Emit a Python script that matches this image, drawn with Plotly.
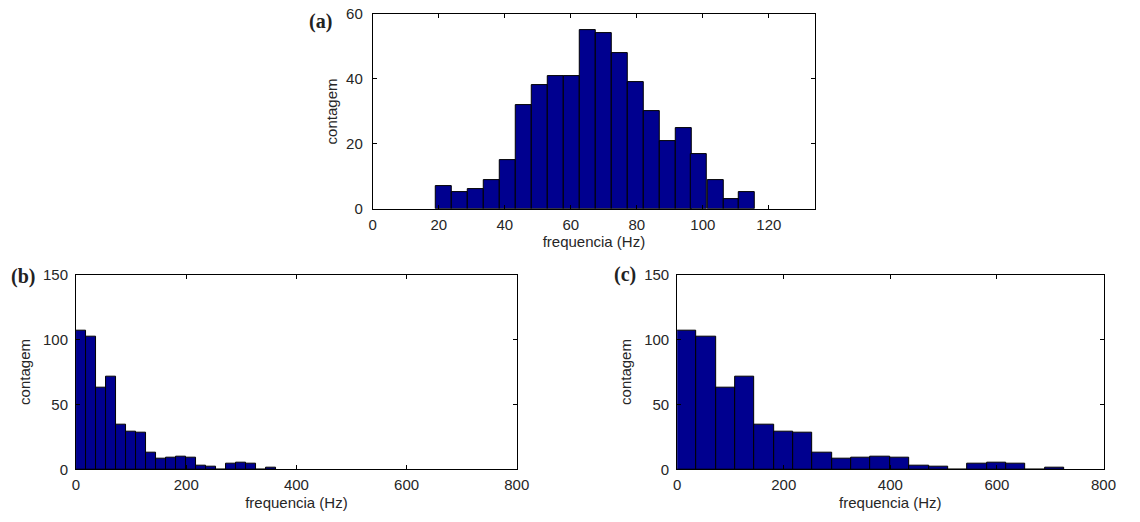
import plotly.graph_objects as go

# ---- data ----
freq_a = [21.6, 26.4, 31.3, 36.1, 40.9, 45.8, 50.6, 55.4, 60.3, 65.1,
          69.9, 74.8, 79.6, 84.4, 89.3, 94.1, 98.9, 103.8, 108.6, 113.4]
count_a = [7, 5, 6, 9, 15, 32, 38, 41, 41, 55, 54, 48, 39, 30, 21, 25, 17, 9, 3, 5]
width_a = 4.83

freq_b = [9.1, 27.2, 45.4, 63.5, 81.7, 99.8, 118.0, 136.1, 154.3, 172.4,
          190.6, 208.7, 226.9, 245.0, 263.2, 281.3, 299.5, 317.6, 335.8, 353.9]
width_b = 18.15

freq_c = [18.2, 54.5, 90.8, 127.1, 163.4, 199.7, 236.0, 272.3, 308.6, 344.9,
          381.2, 417.5, 453.8, 490.1, 526.4, 562.7, 599.0, 635.3, 671.6, 707.9]
width_c = 36.3

count_bc = [107, 102, 63, 71, 34, 29, 28, 13, 8, 9, 10, 9, 3, 2, 0, 4, 5, 4, 0, 1]

ticks_a_x = [0, 20, 40, 60, 80, 100, 120]
ticks_a_y = [0, 20, 40, 60]
ticks_bc_x = [0, 200, 400, 600, 800]
ticks_bc_y = [0, 50, 100, 150]

panel_labels = ["(a)", "(b)", "(c)"]

BAR = "#00008f"
FONT = "Liberation Sans"
TXT = "#262626"

fig = go.Figure()
for i, (x, y, w) in enumerate([(freq_a, count_a, width_a),
                               (freq_b, count_bc, width_b),
                               (freq_c, count_bc, width_c)]):
    sfx = "" if i == 0 else str(i + 1)
    fig.add_trace(go.Bar(x=x, y=y, width=w, marker=dict(color=BAR, line=dict(color="black", width=1)),
                         xaxis="x" + sfx, yaxis="y" + sfx, showlegend=False))

def ax(domain, rng, ticks, title, anchor, standoff, lblgap):
    return dict(domain=domain, range=rng, tickvals=ticks, ticks="inside", ticklen=4,
                tickcolor="black", showline=True, linecolor="black", linewidth=1,
                mirror="ticks", showgrid=False, zeroline=False, automargin=False,
                ticklabelstandoff=lblgap,
                tickfont=dict(family=FONT, size=15, color=TXT),
                title=dict(text=title, font=dict(family=FONT, size=15, color=TXT), standoff=standoff),
                anchor=anchor)

fig.update_layout(
    width=1140, height=522, margin=dict(l=0, r=0, t=0, b=0),
    paper_bgcolor="white", plot_bgcolor="white", bargap=0,
    xaxis=ax([0.327, 0.715], [0, 134], ticks_a_x, "frequencia (Hz)", "y", 3, 2),
    yaxis=ax([0.600, 0.973], [0, 60], ticks_a_y, "contagem", "x", 4, 6),
    xaxis2=ax([0.0667, 0.4533], [0, 800], ticks_bc_x, "frequencia (Hz)", "y2", 5, 2),
    yaxis2=ax([0.101, 0.4738], [0, 150], ticks_bc_y, "contagem", "x2", 8, 4),
    xaxis3=ax([0.594, 0.968], [0, 800], ticks_bc_x, "frequencia (Hz)", "y3", 5, 2),
    yaxis3=ax([0.101, 0.4738], [0, 150], ticks_bc_y, "contagem", "x3", 8, 4),
)

for txt, px, py in zip(panel_labels, [320, 23, 625], [21, 276, 274]):
    fig.add_annotation(text="<b>" + txt + "</b>", x=px / 1140, y=1 - py / 522, xref="paper", yref="paper",
                       showarrow=False, xanchor="center", yanchor="middle",
                       font=dict(family="Liberation Serif", size=20, color="#222"))

fig.write_html("out.html", config={"displayModeBar": False})
with open("out.html", encoding="utf-8") as f:
    html = f.read()
html = html.replace("<body>", '<body style="margin:0;overflow:hidden">', 1)
with open("out.html", "w", encoding="utf-8") as f:
    f.write(html)
